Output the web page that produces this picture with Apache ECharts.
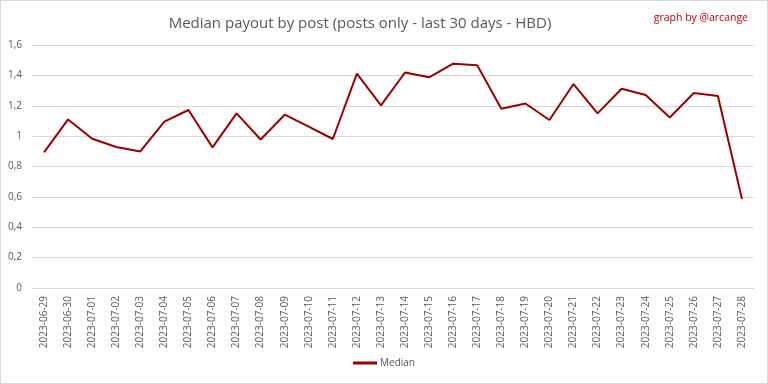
<!DOCTYPE html>
<html><head><meta charset="utf-8">
<script src="https://cdn.jsdelivr.net/npm/echarts@6/dist/echarts.min.js"></script>
<style>html,body{margin:0;padding:0;background:#fff}#c{width:766px;height:382px;border:1px solid #d9d9d9}</style>
</head><body><div id="c"></div>
<script>
const categories = ["2023-06-29","2023-06-30","2023-07-01","2023-07-02","2023-07-03","2023-07-04","2023-07-05","2023-07-06","2023-07-07","2023-07-08","2023-07-09","2023-07-10","2023-07-11","2023-07-12","2023-07-13","2023-07-14","2023-07-15","2023-07-16","2023-07-17","2023-07-18","2023-07-19","2023-07-20","2023-07-21","2023-07-22","2023-07-23","2023-07-24","2023-07-25","2023-07-26","2023-07-27","2023-07-28"];
const medianValues = [0.893,1.110,0.983,0.928,0.899,1.095,1.172,0.926,1.150,0.978,1.141,1.062,0.981,1.411,1.202,1.419,1.387,1.477,1.466,1.180,1.215,1.106,1.343,1.150,1.312,1.271,1.123,1.284,1.264,0.586];
const titleText = "Median payout by post (posts only - last 30 days - HBD)";
const creditText = "graph by @arcange";
const seriesName = "Median";

const chart = echarts.init(document.getElementById('c'));
chart.setOption({
  animation: false,
  title: [
    {text: titleText, left: 354, top: 10, textAlign: 'center',
     textStyle: {fontFamily: 'Open Sans', fontSize: 15, fontWeight: 'normal', color: '#595959'}},
    {text: creditText, right: 14, top: 7,
     textStyle: {fontFamily: 'Open Sans', fontSize: 10.5, fontWeight: 'normal', color: '#c00000'}}
  ],
  legend: {bottom: 10, left: 'center', data: [seriesName], itemWidth: 24, itemHeight: 3, icon: 'rect', itemGap: 4,
    textStyle: {fontFamily: 'Open Sans', fontSize: 10, color: '#595959', padding: [0,0,0,-2]}},
  grid: {left: 31, right: 13, top: 44, bottom: 95, containLabel: false},
  xAxis: {type: 'category', data: categories, boundaryGap: true,
    axisLine: {show: true, lineStyle: {color: '#d9d9d9'}}, axisTick: {show: false},
    axisLabel: {rotate: 90, fontFamily: 'Open Sans', fontSize: 10, color: '#595959', interval: 0, margin: 8}},
  yAxis: {type: 'value', min: 0, max: 1.6, interval: 0.2,
    axisLine: {show: false}, axisTick: {show: false},
    splitLine: {lineStyle: {color: '#d9d9d9', width: 1}},
    axisLabel: {fontFamily: 'Open Sans', fontSize: 10, color: '#595959', margin: 10,
      formatter: v => String(Math.round(v*10)/10).replace('.', ',')}},
  series: [{name: seriesName, type: 'line', data: medianValues, symbol: 'none',
    lineStyle: {color: '#9b0000', width: 2}, itemStyle: {color: '#9b0000'}}]
});
</script></body></html>
